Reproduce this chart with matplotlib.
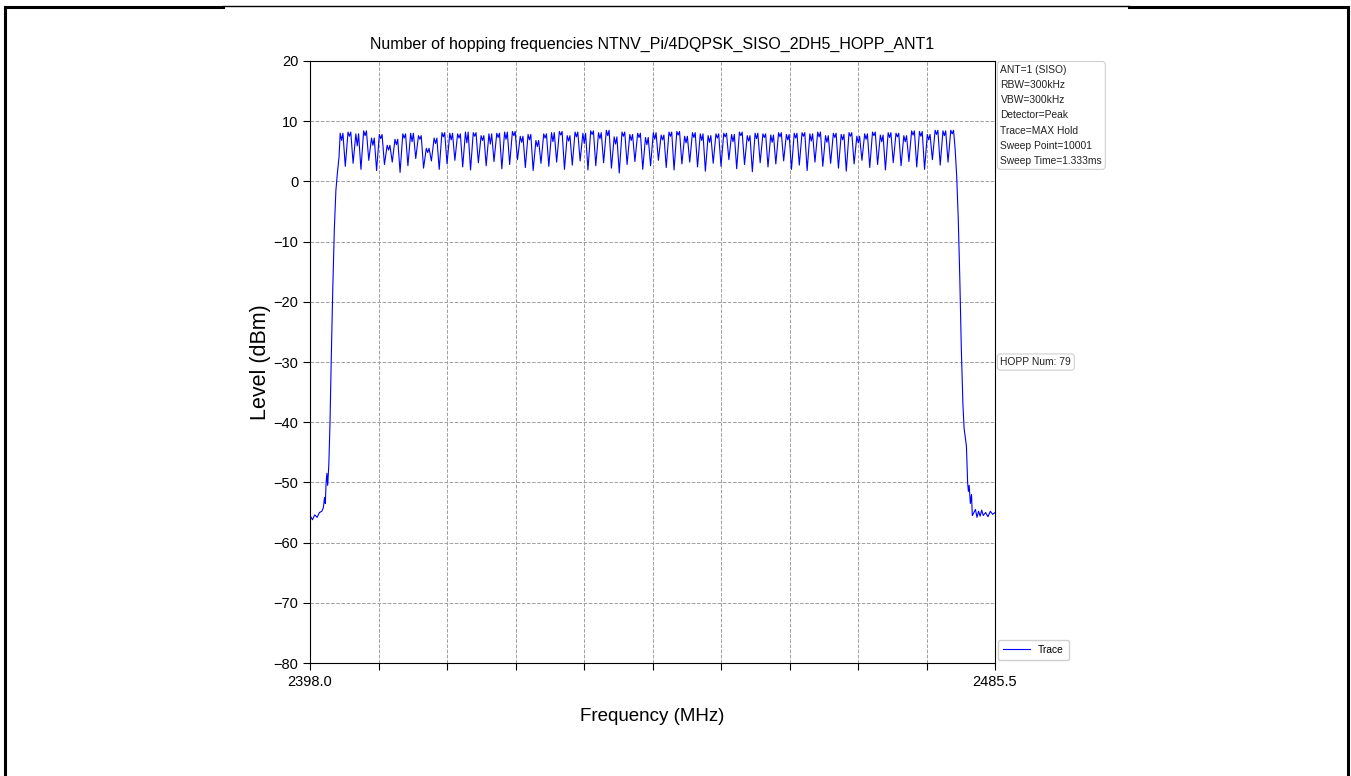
import numpy as np
import matplotlib
matplotlib.use("Agg")
import matplotlib.pyplot as plt
from matplotlib.lines import Line2D

plt.rcParams["font.family"] = ["Liberation Sans", "DejaVu Sans"]

# ---- data ----
f_start, f_stop = 2398.0, 2485.5
channels = np.arange(2402, 2481)  # 79 hopping channels, 1 MHz apart

# peak level of each channel (dBm)
peaks = [8.0, 8.2, 7.9, 8.4, 7.2, 7.8, 6.0, 7.0, 7.9, 8.0, 7.6, 5.5, 7.2, 8.1,
         8.0, 7.9, 8.2, 8.1, 7.6, 7.9, 8.0, 8.2, 8.3, 7.5, 7.8, 6.8, 7.9, 8.1,
         8.3, 7.6, 8.2, 8.0, 8.4, 8.1, 8.5, 7.4, 8.2, 7.8, 8.0, 7.3, 8.1, 7.7,
         8.2, 8.3, 7.5, 8.1, 7.9, 7.6, 7.9, 8.0, 7.8, 8.2, 7.6, 8.0, 7.9, 7.7,
         8.1, 7.8, 8.0, 8.1, 7.9, 8.2, 7.6, 8.0, 7.8, 8.1, 7.5, 7.9, 8.2, 7.7,
         8.1, 8.0, 7.6, 8.4, 8.3, 7.8, 8.5, 8.4, 8.5]
# small notch on top of each channel (dBm)
notches = [6.8, 7.5, 5.9, 7.6, 6.0, 7.1, 5.2, 6.1, 7.2, 6.6, 7.0, 4.8, 6.3, 7.4,
           6.9, 7.2, 6.4, 7.5, 6.8, 6.2, 7.3, 7.0, 7.6, 6.5, 6.9, 5.8, 7.2, 6.6,
           7.7, 6.7, 7.4, 6.3, 7.8, 7.1, 7.6, 6.2, 7.5, 6.8, 7.3, 6.1, 7.0, 6.9,
           7.5, 7.7, 6.4, 7.3, 6.8, 6.5, 7.2, 7.4, 6.6, 7.6, 6.7, 7.1, 7.3, 6.5,
           7.4, 6.9, 7.2, 7.5, 6.7, 7.4, 6.5, 7.3, 6.9, 7.5, 6.4, 7.0, 7.6, 6.6,
           7.3, 7.4, 6.6, 7.7, 7.5, 6.9, 7.8, 7.6, 7.9]
# level between neighbouring channels (dBm)
troughs = [2.5, 3.0, 2.0, 3.5, 1.8, 2.8, 3.2, 1.5, 2.6, 3.8, 2.2, 3.4, 2.0, 2.9,
           3.5, 2.4, 1.9, 3.1, 2.6, 3.3, 2.1, 2.8, 3.6, 2.3, 1.8, 3.0, 2.5, 3.2,
           2.0, 2.7, 3.4, 1.9, 2.6, 3.1, 2.2, 1.4, 2.8, 3.3, 2.0, 2.6, 3.5, 2.3,
           1.9, 2.9, 3.2, 2.4, 1.7, 3.0, 2.5, 3.6, 2.1, 2.8, 1.6, 3.1, 2.4, 2.9,
           3.4, 2.0, 2.7, 1.8, 3.2, 2.5, 3.0, 2.2, 1.7, 2.9, 3.5, 2.3, 2.8, 1.9,
           3.1, 2.6, 3.3, 2.4, 2.0, 3.6, 2.7, 3.2]

# band edges: noise floor and skirts
left_freq = [2398.0, 2398.3, 2398.6, 2398.9, 2399.2, 2399.5, 2399.7, 2399.85,
             2399.95, 2400.05, 2400.15, 2400.25, 2400.4, 2400.55, 2400.7,
             2400.9, 2401.1, 2401.3, 2401.5, 2401.7]
left_level = [-55.5, -56.2, -55.4, -55.8, -55.0, -54.8, -54.2, -52.5, -53.5,
              -50.0, -48.5, -50.5, -47.0, -40.0, -30.0, -18.0, -8.0, -1.5, 1.5, 4.0]
right_freq = [2480.4, 2480.6, 2480.8, 2481.0, 2481.2, 2481.4, 2481.55, 2481.7,
              2481.85, 2482.0, 2482.1, 2482.2, 2482.35, 2482.5, 2482.6, 2482.8,
              2483.0, 2483.2, 2483.4, 2483.6, 2483.8, 2484.0, 2484.3, 2484.6,
              2484.9, 2485.2, 2485.5]
right_level = [5.5, 1.0, -6.0, -16.0, -28.0, -37.0, -41.0, -42.5, -44.0, -50.0,
               -51.5, -50.5, -53.5, -52.0, -55.5, -55.0, -54.5, -55.8, -54.8,
               -55.6, -54.6, -55.5, -55.0, -55.7, -54.8, -55.3, -55.0]

info_lines = ["ANT=1 (SISO)", "RBW=300kHz", "VBW=300kHz", "Detector=Peak",
              "Trace=MAX Hold", "Sweep Point=10001", "Sweep Time=1.333ms"]
hop_num = 79

# ---- assemble trace ----
freq = list(left_freq)
level = list(left_level)
for i, c in enumerate(channels):
    freq += [c - 0.15, c + 0.03, c + 0.2]
    level += [peaks[i], notches[i], peaks[i]]
    if i < len(troughs):
        freq.append(c + 0.5)
        level.append(troughs[i])
freq += right_freq
level += right_level

box_size = 7.4

fig = plt.figure(figsize=(13.51, 7.76), dpi=100)
ax = fig.add_axes([0.2295, 0.1456, 0.507, 0.7758])

ax.plot(freq, level, color="blue", linewidth=0.8, label="Trace")
ax.set_xlim(f_start, f_stop)
ax.set_ylim(-80, 20)
ax.set_yticks(np.arange(-80, 21, 10))
xt = np.linspace(f_start, f_stop, 11)
ax.set_xticks(xt)
ax.set_xticklabels([f"{f_start:.1f}"] + [""] * 9 + [f"{f_stop:.1f}"])
ax.tick_params(labelsize=10.5, length=5)
ax.grid(True, linestyle="--", color="#a0a0a0", linewidth=0.7)

ax.set_title("Number of hopping frequencies NTNV_Pi/4DQPSK_SISO_2DH5_HOPP_ANT1",
             fontsize=11.5, pad=9)
ax.set_xlabel("Frequency (MHz)", fontsize=13.5, labelpad=14)
ax.set_ylabel("Level (dBm)", fontsize=15.5, labelpad=2)

box = dict(boxstyle="round,pad=0.3", fc="white", ec="#d0d0d0", lw=0.8)
ax.text(1.008, 0.994, "\n".join(info_lines), transform=ax.transAxes,
        va="top", ha="left", fontsize=box_size, linespacing=1.66,
        color="#222222", bbox=box)
ax.text(1.008, 0.5, f"HOPP Num: {hop_num}", transform=ax.transAxes,
        va="center", ha="left", fontsize=box_size, color="#222222", bbox=box)
ax.legend(loc="lower left", bbox_to_anchor=(1.0, 0.0), fontsize=box_size,
          frameon=True, fancybox=True, framealpha=1, edgecolor="#d0d0d0",
          handlelength=2.6, borderpad=0.5, borderaxespad=0.3)

# page frame
for xs, ys, lw in [([0.004, 0.004], [0.0, 0.991], 2.2),
                   ([0.998, 0.998], [0.0, 0.991], 2.2),
                   ([0.004, 0.165], [0.991, 0.991], 2.2),
                   ([0.165, 0.836], [0.992, 0.992], 1.0),
                   ([0.836, 0.998], [0.991, 0.991], 2.2)]:
    fig.add_artist(Line2D(xs, ys, color="black", lw=lw, transform=fig.transFigure))

fig.savefig("out.png", dpi=100)
